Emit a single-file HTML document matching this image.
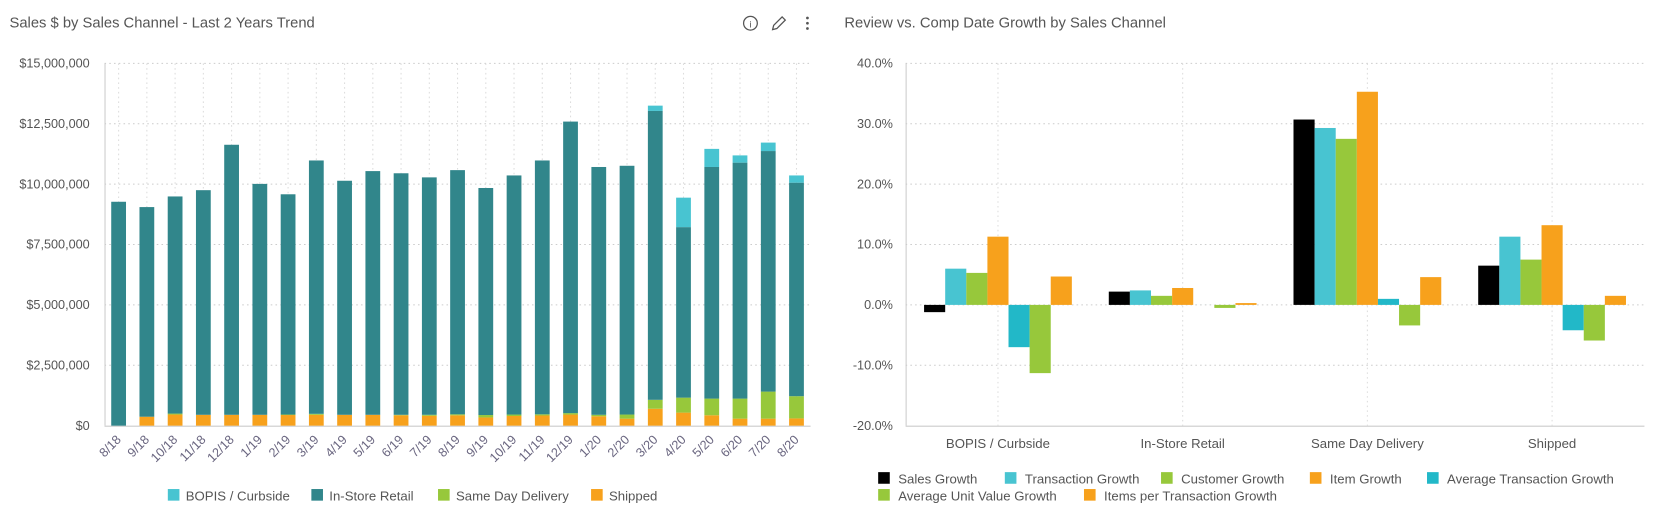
<!DOCTYPE html>
<html><head><meta charset="utf-8">
<style>
body{margin:0;background:#fff;font-family:"Liberation Sans",sans-serif;}
svg{display:block}
text{font-family:"Liberation Sans",sans-serif;}
</style></head>
<body>
<svg id="root" width="1655" height="526" viewBox="0 0 1568 498" preserveAspectRatio="none">
<text x="9" y="26" font-size="14" fill="#555">Sales $ by Sales Channel - Last 2 Years Trend</text>
<g><circle cx="711" cy="22" r="6.5" fill="none" stroke="#555" stroke-width="1.2"/><text x="711" y="26" font-size="9" text-anchor="middle" fill="#555">i</text></g>
<g><path d="M732 28 L733 24 L741 16 L744 19 L736 27 Z" fill="none" stroke="#555" stroke-width="1.2"/></g>
<g><circle cx="765" cy="17" r="1.3" fill="#555"/><circle cx="765" cy="22" r="1.3" fill="#555"/><circle cx="765" cy="27" r="1.3" fill="#555"/></g>
<text x="800" y="26" font-size="14" fill="#555">Review vs. Comp Date Growth by Sales Channel</text>
<g id="left"></g>
<g id="right"></g>
</svg>
<script>
const months=["8/18","9/18","10/18","11/18","12/18","1/19","2/19","3/19","4/19","5/19","6/19","7/19","8/19","9/19","10/19","11/19","12/19","1/20","2/20","3/20","4/20","5/20","6/20","7/20","8/20"];
const bopis=[0,0,0,0,0,0,0,0,0,0,0,0,0,0,0,0,0,0,0,0.22,1.22,0.75,0.30,0.35,0.30];
const inStore=[9.27,8.68,8.99,9.30,11.18,9.56,9.12,10.49,9.69,10.09,10.00,9.83,10.11,9.40,9.90,10.51,12.07,10.26,10.30,11.96,7.06,9.59,9.77,9.96,8.84];
const sameDay=[0,0,0.04,0,0,0,0.02,0.04,0,0,0.02,0.04,0.04,0.1,0.06,0.05,0.06,0.06,0.17,0.37,0.62,0.69,0.83,1.12,0.92];
const shipped=[0,0.37,0.46,0.45,0.45,0.45,0.44,0.45,0.45,0.45,0.43,0.41,0.43,0.34,0.40,0.42,0.46,0.39,0.29,0.70,0.54,0.43,0.29,0.29,0.30];
const leftTicks=["$0","$2,500,000","$5,000,000","$7,500,000","$10,000,000","$12,500,000","$15,000,000"];

const cats=["BOPIS / Curbside","In-Store Retail","Same Day Delivery","Shipped"];
const salesG=[-1.2,2.2,30.7,6.5];
const transG=[6.0,2.4,29.3,11.3];
const custG=[5.3,1.5,27.5,7.5];
const itemG=[11.3,2.8,35.3,13.2];
const avgTransG=[-7.0,0,1.0,-4.2];
const auvG=[-11.3,-0.5,-3.4,-5.9];
const iptG=[4.7,0.3,4.6,1.5];
const rightTicks=["-20.0%","-10.0%","0.0%","10.0%","20.0%","30.0%","40.0%"];

const NS="http://www.w3.org/2000/svg";
function mk(p,tag,a){const e=document.createElementNS(NS,tag);for(const k in a)e.setAttribute(k,a[k]);p.appendChild(e);return e;}
const C={bopis:"#48c4d1",inStore:"#31868b",sameDay:"#97c83b",shipped:"#f7a11c"};

// LEFT
const L=document.getElementById('left');
const lx0=99,lx1=768,ly0=403,ly1=60;
const ly=v=>ly0-(v/15)*(ly0-ly1);
const band=(lx1-lx0)/months.length;
const lx=i=>lx0+band*(i+0.5);
leftTicks.forEach((t,i)=>{const y=ly(i*2.5);
 if(i>0){const g=mk(L,'line',{x1:lx0,x2:lx1,y1:y,y2:y,stroke:"#ccc","stroke-dasharray":"1.5,3"});}
 const tx=mk(L,'text',{x:lx0-14,y:y+4,"font-size":"12","text-anchor":"end",fill:"#555"});tx.textContent=t;
 
 
});
months.forEach((m,i)=>{const g=mk(L,'line',{x1:lx(i),x2:lx(i),y1:ly1,y2:ly0,stroke:"#ddd","stroke-dasharray":"1.5,3"});});
mk(L,'line',{x1:lx0,x2:lx1,y1:ly0+0.5,y2:ly0+0.5,stroke:"#ccc"});
mk(L,'line',{x1:lx0+0.5,x2:lx0+0.5,y1:ly1,y2:ly0,stroke:"#ccc"});
const bw=14;
months.forEach((m,i)=>{
 let base=0;
 [["shipped",shipped],["sameDay",sameDay],["inStore",inStore],["bopis",bopis]].forEach(([k,arr])=>{
  const v=arr[i];if(v<=0)return;
  const r=mk(L,'rect',{x:lx(i)-bw/2,y:ly(base+v),width:bw,height:ly(base)-ly(base+v),fill:C[k]});
  
  
  base+=v;
 });
 const t=mk(L,'text',{x:lx(i)+3,y:ly0+14,"font-size":"12","text-anchor":"end",fill:"#6a6680",transform:`rotate(-45 ${lx(i)+3} ${ly0+14})`});
 t.textContent=m;
 
 
});
const leg=[["BOPIS / Curbside","bopis",159],["In-Store Retail","inStore",295],["Same Day Delivery","sameDay",415],["Shipped","shipped",560]];
leg.forEach(([n,k,x])=>{const g=mk(L,'g',{});
 mk(g,'rect',{x:x,y:463,width:11,height:11,fill:C[k]});const t=mk(g,'text',{x:x+17,y:474,"font-size":"12.5",fill:"#555"});t.textContent=n;});

// RIGHT
const R=document.getElementById('right');
const rx0=858,rx1=1558,ry0=403,ry1=60;
const ry=v=>ry0-((v+20)/60)*(ry0-ry1);
const rb=(rx1-rx0)/cats.length;
const rc=i=>rx0+rb*(i+0.5);
rightTicks.forEach((t,i)=>{const y=ry(-20+i*10);
 if(i>0){const g=mk(R,'line',{x1:rx0,x2:rx1,y1:y,y2:y,stroke:"#ccc","stroke-dasharray":"1.5,3"});}
 const tx=mk(R,'text',{x:rx0-12,y:y+4,"font-size":"12","text-anchor":"end",fill:"#555"});tx.textContent=t;
 
 
});
cats.forEach((c,i)=>{mk(R,'line',{x1:rc(i),x2:rc(i),y1:ry1,y2:ry0,stroke:"#ddd","stroke-dasharray":"1.5,3"});});
mk(R,'line',{x1:rx0,x2:rx1,y1:ry0+0.5,y2:ry0+0.5,stroke:"#ccc"});
mk(R,'line',{x1:rx0+0.5,x2:rx0+0.5,y1:ry1,y2:ry0,stroke:"#ccc"});
const series=[["Sales Growth",salesG,"#000"],["Transaction Growth",transG,"#48c4d1"],["Customer Growth",custG,"#97c83b"],["Item Growth",itemG,"#f7a11c"],["Average Transaction Growth",avgTransG,"#22b8c8"],["Average Unit Value Growth",auvG,"#97c83b"],["Items per Transaction Growth",iptG,"#f7a11c"]];
const rbw=20;
cats.forEach((c,i)=>{
 series.forEach(([n,arr,col],j)=>{const v=arr[i];const x=rc(i)-70+j*rbw;
  const y=Math.min(ry(v),ry(0));const h=Math.abs(ry(v)-ry(0));
  const r=mk(R,'rect',{x:x,y:y,width:rbw,height:Math.max(h,0.01),fill:col});
  
  
 });
 const t=mk(R,'text',{x:rc(i),y:424,"font-size":"12.5","text-anchor":"middle",fill:"#555"});t.textContent=c;
 
 
});
const rl=[[0,832,453],[1,952,453],[2,1100,453],[3,1241,453],[4,1352,453],[5,832,469],[6,1027,469]];
rl.forEach(([j,x,y])=>{const g=mk(R,'g',{});
 mk(g,'rect',{x:x,y:y-6,width:11,height:11,fill:series[j][2]});const t=mk(g,'text',{x:x+19,y:y+5,"font-size":"12.5",fill:"#555"});t.textContent=series[j][0];});
</script>
</body></html>
